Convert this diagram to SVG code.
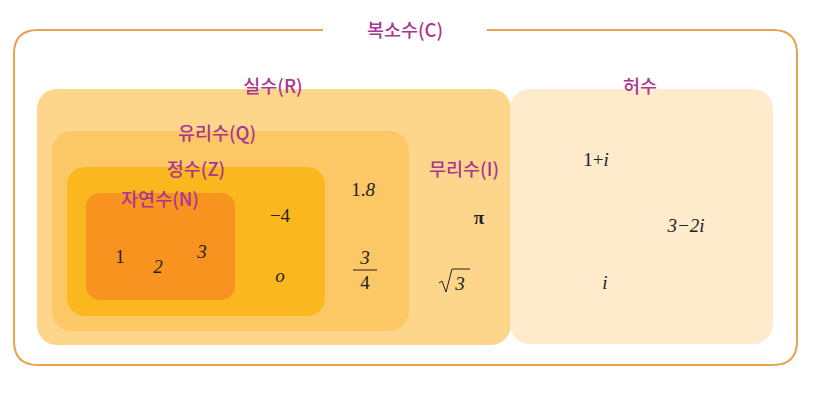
<svg xmlns="http://www.w3.org/2000/svg" width="836" height="406" viewBox="0 0 836 406">
<style>
.lbl{font-family:"Noto Sans CJK KR","Noto Sans",sans-serif;font-size:18.5px;fill:#A8378F;text-anchor:middle;font-weight:500}
.m{font-family:"Liberation Serif",serif;font-size:19px;fill:#222;text-anchor:middle}
.i{font-style:italic}
</style>
<rect width="836" height="406" fill="#fff"/>
<g id="complex">
<path d="M323,30 H38 Q14,30 14,54 V341 Q14,365 38,365 H773 Q797,365 797,341 V54 Q797,30 773,30 H487" fill="none" stroke="#E9A24E" stroke-width="2"/>
<text class="lbl" x="405" y="37">복소수(C)</text>
</g>
<g id="real">
<rect x="37" y="89" width="474" height="256" rx="20" fill="#FDD68C"/>
<text class="lbl" x="273" y="93">실수(R)</text>
</g>
<g id="imaginary">
<rect x="510" y="89" width="263" height="255" rx="20" fill="#FEEBCB"/>
<text class="lbl" x="640" y="93">허수</text>
<text class="m" x="596" y="166">1+<tspan class="i">i</tspan></text>
<text class="m i" x="686" y="232">3−2i</text>
<text class="m i" x="605" y="289">i</text>
</g>
<g id="rational">
<rect x="52" y="131" width="357" height="200" rx="20" fill="#FCC866"/>
<text class="lbl" x="217" y="140">유리수(Q)</text>
<text class="m" x="363" y="196">1.<tspan class="i">8</tspan></text>
<text class="m i" x="365" y="264">3</text>
<line x1="353" y1="270" x2="377" y2="270" stroke="#222" stroke-width="1"/>
<text class="m" x="365" y="289">4</text>
</g>
<g id="irrational">
<text class="lbl" x="464" y="176">무리수(I)</text>
<text class="m" x="479" y="224" font-weight="bold">π</text>
<path d="M439,283 L442,281 L446,292 L452,269 H470" fill="none" stroke="#222" stroke-width="1"/>
<text class="m i" x="460" y="290">3</text>
</g>
<g id="integer">
<rect x="67" y="167" width="258" height="149" rx="18" fill="#FBB71E"/>
<text class="lbl" x="196" y="176">정수(Z)</text>
<text class="m" x="280" y="222">−4</text>
<text class="m i" x="280" y="282">o</text>
</g>
<g id="natural">
<rect x="86" y="193" width="149" height="107" rx="14" fill="#F7931E"/>
<text class="lbl" x="160" y="206">자연수(N)</text>
<text class="m" x="120" y="263">1</text>
<text class="m i" x="158" y="273">2</text>
<text class="m i" x="202" y="258">3</text>
</g>
<g id="connectors"/>
</svg>
